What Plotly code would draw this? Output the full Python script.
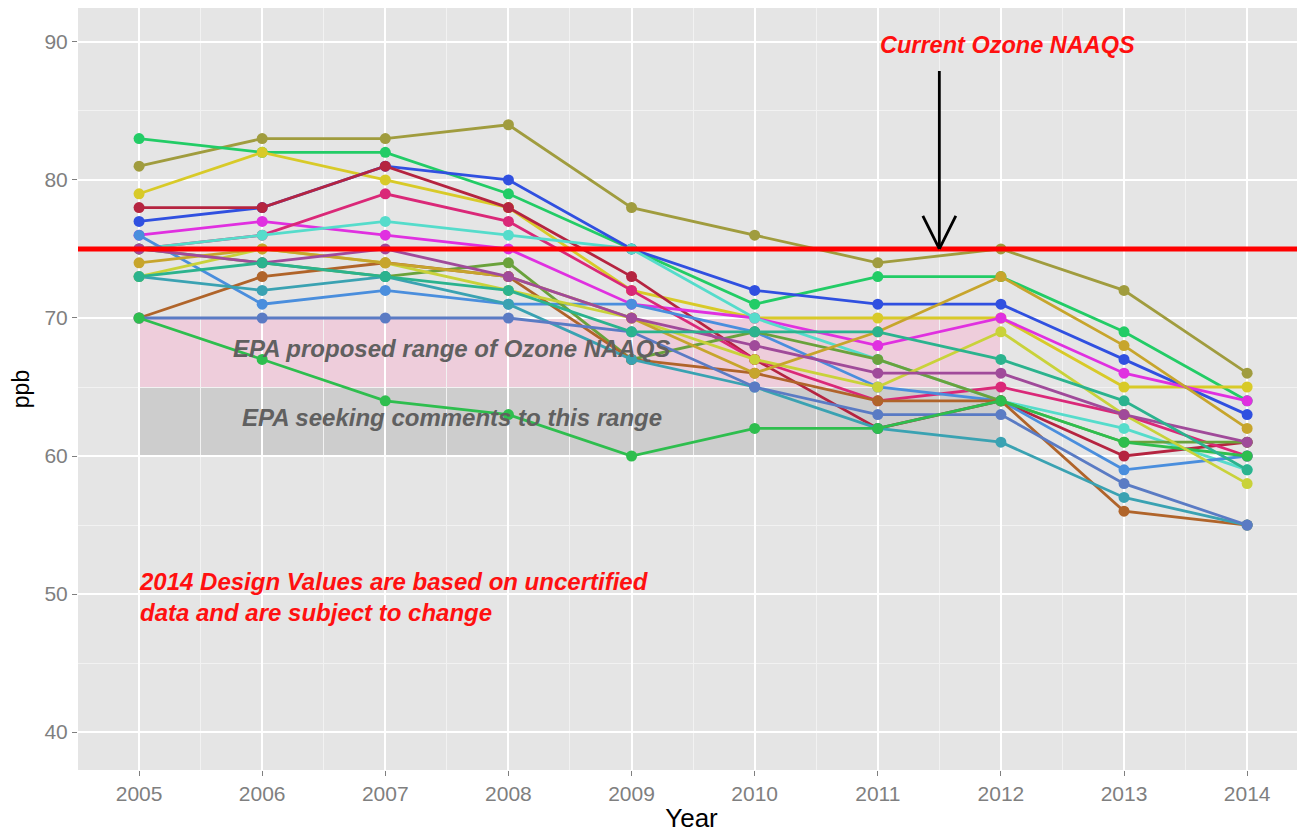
import plotly.graph_objects as go

years = [2005, 2006, 2007, 2008, 2009, 2010, 2011, 2012, 2013, 2014]

olive      = [81, 83, 83, 84, 78, 76, 74, 75, 72, 66]
green      = [83, 82, 82, 79, 75, 71, 73, 73, 69, 64]
yellow     = [79, 82, 80, 78, 72, 70, 70, 70, 65, 65]
blue       = [77, 78, 81, 80, 75, 72, 71, 71, 67, 63]
darkred    = [78, 78, 81, 78, 73, 67, 62, 64, 60, 61]
magenta    = [76, 77, 76, 75, 71, 70, 68, 70, 66, 64]
crimson    = [75, 76, 79, 77, 72, 67, 64, 65, 63, 60]
cyan       = [75, 76, 77, 76, 75, 70, 67, 64, 62, 59]
steelblue  = [76, 71, 72, 71, 71, 69, 65, 64, 59, 60]
olivegreen = [75, 74, 73, 74, 67, 69, 67, 64, 61, 61]
brown      = [70, 73, 74, 73, 67, 66, 64, 64, 56, 55]
teal       = [73, 72, 73, 71, 67, 65, 62, 61, 57, 55]
slate      = [70, 70, 70, 70, 69, 65, 63, 63, 58, 55]
greenlow   = [70, 67, 64, 63, 60, 62, 62, 64, 61, 60]
yellow2    = [73, 75, 74, 72, 70, 67, 65, 69, 63, 58]
gold       = [74, 75, 74, 73, 70, 66, 69, 73, 68, 62]
purple     = [75, 74, 75, 73, 70, 68, 66, 66, 63, 61]
tealgreen  = [73, 74, 73, 72, 69, 69, 69, 67, 64, 59]

series = [
    (olive, "#A09C3E"), (green, "#22CC66"), (yellow, "#D8CA28"), (blue, "#3050E0"),
    (darkred, "#B52440"), (magenta, "#E030E0"), (crimson, "#DA2878"), (cyan, "#55DCCB"),
    (steelblue, "#4A8EDD"), (olivegreen, "#6AA23C"), (brown, "#B0642A"), (teal, "#3AA2B2"),
    (slate, "#5A7BC4"), (greenlow, "#2EBE4E"), (yellow2, "#C9D23A"), (gold, "#C7A52C"),
    (purple, "#A04A9A"), (tealgreen, "#2BB38E"),
]

naaqs = 75
proposed_range = [65, 70]
comment_range = [60, 65]

y_ticks = [40, 50, 60, 70, 80, 90]

fig = go.Figure()

for vals, col in series:
    fig.add_trace(go.Scatter(
        x=years, y=vals, mode="lines+markers",
        line=dict(color=col, width=2.8),
        marker=dict(color=col, size=11),
        showlegend=False, hoverinfo="skip",
    ))

# shaded ranges
fig.add_shape(type="rect", xref="x", yref="y", x0=2005, x1=2012,
              y0=proposed_range[0], y1=proposed_range[1],
              fillcolor="rgba(255,160,200,0.35)", line_width=0, layer="below")
fig.add_shape(type="rect", xref="x", yref="y", x0=2005, x1=2012,
              y0=comment_range[0], y1=comment_range[1],
              fillcolor="rgba(150,150,150,0.30)", line_width=0, layer="below")

# NAAQS line
fig.add_shape(type="line", xref="paper", yref="y", x0=0, x1=1, y0=naaqs, y1=naaqs,
              line=dict(color="#FF0000", width=5))

# arrow
arrow_x = 2011.5
for ax, ay in [(arrow_x, 88.0), (arrow_x - 0.14, 77.5), (arrow_x + 0.14, 77.5)]:
    fig.add_annotation(x=arrow_x, y=naaqs, ax=ax, ay=ay, xref="x", yref="y",
                       axref="x", ayref="y", showarrow=True, arrowhead=0,
                       arrowwidth=2.8, arrowcolor="black", text="")

fig.add_annotation(x=2012.05, y=89.8, xref="x", yref="y", showarrow=False,
                   text="<b><i>Current Ozone NAAQS</i></b>",
                   font=dict(family="Liberation Sans, Arial", size=23.5, color="#FF1010"))
fig.add_annotation(x=2005.75, y=67.8, xref="x", yref="y", showarrow=False, xanchor="left",
                   text="<b><i>EPA proposed range of Ozone NAAQS</i></b>",
                   font=dict(family="Liberation Sans, Arial", size=24, color="#606060"))
fig.add_annotation(x=2005.82, y=62.8, xref="x", yref="y", showarrow=False, xanchor="left",
                   text="<b><i>EPA seeking comments to this range</i></b>",
                   font=dict(family="Liberation Sans, Arial", size=24, color="#606060"))
fig.add_annotation(x=2004.98, y=49.8, xref="x", yref="y", showarrow=False,
                   xanchor="left", align="left",
                   text="<b><i>2014 Design Values are based on uncertified<br>data and are subject to change</i></b>",
                   font=dict(family="Liberation Sans, Arial", size=24, color="#FF1010"))

fig.update_layout(
    width=1297, height=827,
    margin=dict(l=70, r=0, t=0, b=65, autoexpand=False),
    paper_bgcolor="white", plot_bgcolor="#E5E5E5",
    font=dict(family="Liberation Sans, Arial", color="#7F7F7F", size=21),
    xaxis=dict(range=[2004.504, 2014.47], tickvals=years, ticktext=[str(y) for y in years],
               automargin=False,
               showgrid=True, gridcolor="white", gridwidth=1.5, zeroline=False,
               ticks="outside", ticklen=5, tickcolor="#7F7F7F",
               minor=dict(dtick=0.5, tick0=2004.5, showgrid=True, gridcolor="#F2F2F2", gridwidth=0.8),
               title=dict(text="Year", font=dict(size=26, color="black"), standoff=4)),
    yaxis=dict(range=[37.25, 92.46], tickvals=y_ticks, automargin=False,
               showgrid=True, gridcolor="white", gridwidth=1.5, zeroline=False,
               ticks="outside", ticklen=5, tickcolor="#7F7F7F",
               minor=dict(dtick=5, tick0=35, showgrid=True, gridcolor="#F2F2F2", gridwidth=0.8),
               title=dict(text="ppb", font=dict(size=23, color="black"), standoff=8)),
)

fig.write_html("out.html")
